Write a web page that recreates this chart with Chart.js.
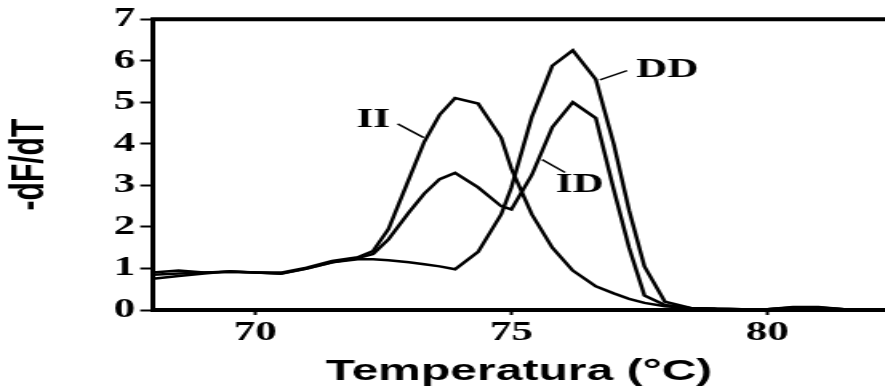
<!DOCTYPE html>
<html>
<head>
<meta charset="utf-8">
<script src="https://cdn.jsdelivr.net/npm/chart.js@4/dist/chart.umd.min.js"></script>
<style>
  html, body { margin: 0; padding: 0; background: #fff; }
  canvas { display: block; }
</style>
</head>
<body>
<!-- the source figure is stretched sideways, so the canvas is drawn narrow and widened by css -->
<canvas id="meltChart" width="553" height="392" style="width:885px;height:392px"></canvas>
<script>
const temps = [68.0, 68.5, 69.0, 69.5, 70.0, 70.5, 71.0, 71.5, 72.0, 72.3, 72.6, 73.0, 73.3, 73.6, 73.9,
               74.35, 74.8, 75.0, 75.4, 75.8, 76.2, 76.65, 77.0, 77.3, 77.6, 78.0, 78.5, 79.0, 79.5,
               80.0, 80.5, 81.0, 81.5, 82.0, 82.3];

const seriesII = [0.75, 0.82, 0.88, 0.93, 0.90, 0.90, 1.02, 1.18, 1.27, 1.42, 1.95, 3.15, 4.05, 4.70, 5.10,
                  4.97, 4.15, 3.40, 2.30, 1.50, 0.95, 0.57, 0.40, 0.27, 0.17, 0.09, 0.04, 0.03, 0.02,
                  0.02, 0.06, 0.06, 0.02, 0.01, 0.01];
const seriesID = [0.90, 0.95, 0.90, 0.92, 0.90, 0.88, 1.00, 1.15, 1.25, 1.35, 1.70, 2.35, 2.80, 3.15, 3.30,
                  2.95, 2.50, 2.42, 3.25, 4.40, 5.00, 4.62, 2.90, 1.50, 0.35, 0.12, 0.05, 0.03, 0.02,
                  0.02, 0.05, 0.05, 0.02, 0.01, 0.01];
const seriesDD = [0.85, 0.88, 0.90, 0.92, 0.90, 0.87, 1.00, 1.15, 1.22, 1.22, 1.20, 1.15, 1.10, 1.05, 0.98,
                  1.40, 2.30, 2.95, 4.65, 5.88, 6.25, 5.55, 4.00, 2.40, 1.05, 0.20, 0.05, 0.03, 0.02,
                  0.02, 0.07, 0.07, 0.02, 0.01, 0.01];

const xTickValues = [70, 75, 80];
const yTickValues = [0, 1, 2, 3, 4, 5, 6, 7];

// curve names with their leader lines, in data units
const curveNames = ['II', 'DD', 'ID'];
const nameAt = [[72.30, 4.58], [78.05, 5.78], [76.34, 3.02]];
const leaderText = [[72.78, 4.48], [77.26, 5.76], [76.05, 3.31]];
const leaderCurve = [[73.29, 4.15], [76.73, 5.54], [75.60, 3.62]];

const serif = "'Liberation Serif', 'Times New Roman', serif";
const sans = "'Liberation Sans', Arial, sans-serif";

const toPoints = vals => vals.map((v, i) => ({ x: temps[i], y: v }));

function curve(label, vals) {
    return {
        label: label,
        data: toPoints(vals),
        borderColor: '#000',
        borderWidth: 2.5,
        pointRadius: 0,
        fill: false,
        tension: 0
    };
}

const frameAndNames = {
    id: 'frameAndNames',
    afterDatasetsDraw(chart) {
        const { ctx, chartArea, scales } = chart;
        ctx.save();
        // top frame line
        ctx.strokeStyle = '#000';
        ctx.lineWidth = 4;
        ctx.beginPath();
        ctx.moveTo(chartArea.left - 1.5, chartArea.top);
        ctx.lineTo(chartArea.right, chartArea.top);
        ctx.stroke();

        ctx.lineWidth = 1.5;
        ctx.fillStyle = '#000';
        ctx.font = 'bold 27px ' + serif;
        ctx.textAlign = 'center';
        ctx.textBaseline = 'middle';
        curveNames.forEach((name, i) => {
            ctx.beginPath();
            ctx.moveTo(scales.x.getPixelForValue(leaderText[i][0]), scales.y.getPixelForValue(leaderText[i][1]));
            ctx.lineTo(scales.x.getPixelForValue(leaderCurve[i][0]), scales.y.getPixelForValue(leaderCurve[i][1]));
            ctx.stroke();
            ctx.fillText(name, scales.x.getPixelForValue(nameAt[i][0]), scales.y.getPixelForValue(nameAt[i][1]));
        });
        ctx.restore();
    }
};

const ctx = document.getElementById('meltChart').getContext('2d');

const meltChart = new Chart(ctx, {
    type: 'line',
    data: {
        datasets: [
            curve('II', seriesII),
            curve('ID', seriesID),
            curve('DD', seriesDD)
        ]
    },
    options: {
        responsive: false,
        animation: false,
        devicePixelRatio: 1,
        layout: { padding: { top: 18, right: 0, bottom: 0, left: 0 } },
        plugins: {
            legend: { display: false },
            tooltip: { enabled: false }
        },
        scales: {
            x: {
                type: 'linear',
                min: 68,
                max: 82.3,
                afterBuildTicks: s => { s.ticks = xTickValues.map(v => ({ value: v })); },
                afterFit: s => { s.height = 82; },
                grid: { drawOnChartArea: false, drawTicks: true, tickLength: 5, tickWidth: 2, tickColor: '#000' },
                border: { display: true, color: '#000', width: 4 },
                ticks: {
                    color: '#000',
                    padding: 2,
                    maxRotation: 0,
                    font: { family: serif, size: 27, weight: 'bold' }
                },
                title: {
                    display: true,
                    text: 'Temperatura (°C)',
                    color: '#000',
                    padding: { top: 0, bottom: 2 },
                    font: { family: sans, size: 30, weight: 'bold' }
                }
            },
            y: {
                min: 0,
                max: 7,
                afterBuildTicks: s => { s.ticks = yTickValues.map(v => ({ value: v })); },
                afterFit: s => { s.width = 95.6; },
                grid: { drawOnChartArea: false, drawTicks: true, tickLength: 8, tickWidth: 2, tickColor: '#000' },
                border: { display: true, color: '#000', width: 3 },
                ticks: {
                    color: '#000',
                    padding: 3,
                    font: { family: serif, size: 27, weight: 'bold' }
                },
                title: {
                    display: true,
                    text: '-dF/dT',
                    color: '#000',
                    padding: { top: 1, bottom: 0 },
                    font: { family: sans, size: 30, weight: 'bold' }
                }
            }
        }
    },
    plugins: [frameAndNames]
});
</script>
</body>
</html>
